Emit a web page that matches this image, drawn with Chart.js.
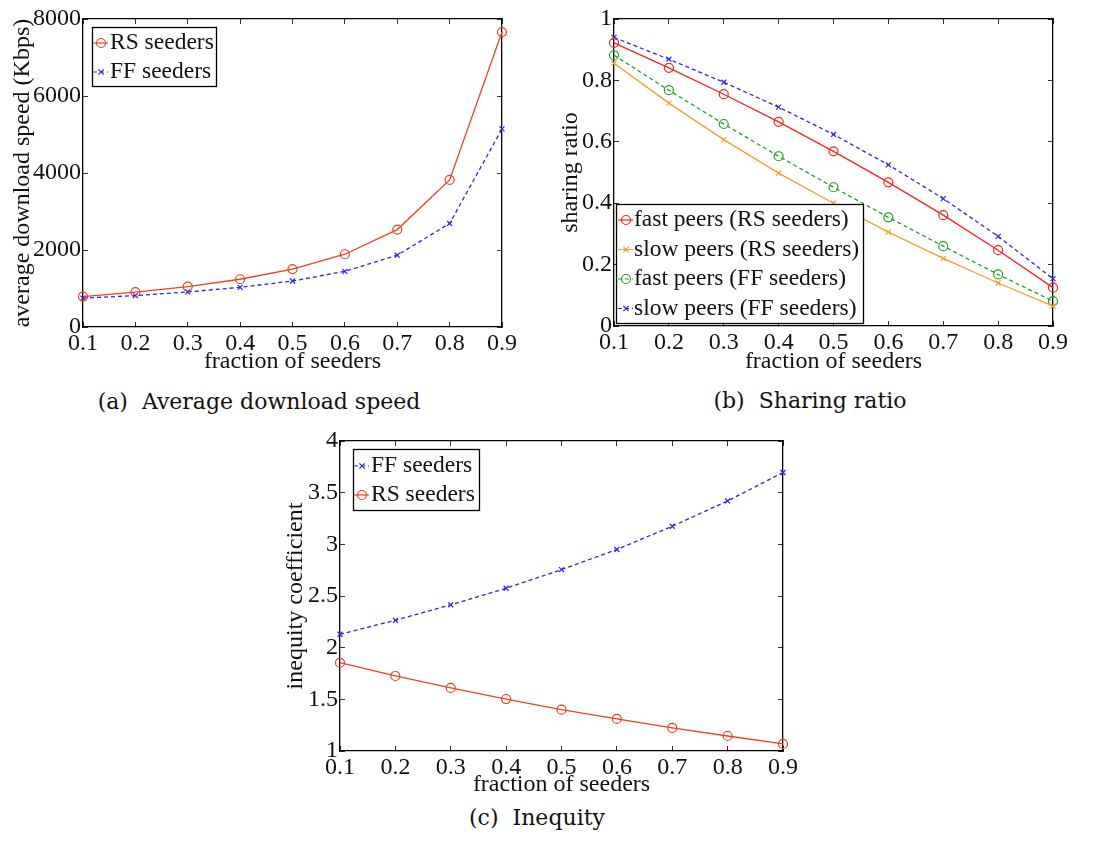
<!DOCTYPE html>
<html>
<head>
<meta charset="utf-8">
<script src="https://cdn.jsdelivr.net/npm/chart.js"></script>
<style>
  body { margin: 0; background: #fff; }
  #page { position: relative; width: 1094px; height: 843px; overflow: hidden; }
  .box { position: absolute; }
  .cap { position: absolute; font-family: "DejaVu Serif", serif; font-size: 22px; color: #111; white-space: pre; transform: translate(-50%, -50%); }
</style>
</head>
<body>
<div id="page">
  <div class="box" style="left:0;top:0;width:540px;height:374px"><canvas id="speed"></canvas></div>
  <div class="box" style="left:540px;top:0;width:554px;height:374px"><canvas id="ratio"></canvas></div>
  <div class="box" style="left:260px;top:420px;width:560px;height:377px"><canvas id="inequity"></canvas></div>
  <div class="cap" style="left:259px;top:401px">(a)  Average download speed</div>
  <div class="cap" style="left:810px;top:400px">(b)  Sharing ratio</div>
  <div class="cap" style="left:537px;top:817px">(c)  Inequity</div>
</div>
<script>
// fraction of seeders on every x axis
const fractions = ['0.1', '0.2', '0.3', '0.4', '0.5', '0.6', '0.7', '0.8', '0.9'];

// (a) average download speed, Kbps
const speedRS = [790, 905, 1050, 1240, 1505, 1890, 2530, 3820, 7660];
const speedFF = [750, 815, 910, 1030, 1195, 1445, 1865, 2690, 5145];

// (b) sharing ratio
const fastRS = [0.922, 0.841, 0.755, 0.665, 0.569, 0.468, 0.361, 0.247, 0.125];
const slowRS = [0.856, 0.726, 0.607, 0.498, 0.400, 0.306, 0.220, 0.140, 0.065];
const fastFF = [0.882, 0.768, 0.658, 0.553, 0.452, 0.354, 0.260, 0.168, 0.081];
const slowFF = [0.940, 0.869, 0.794, 0.713, 0.624, 0.525, 0.415, 0.292, 0.154];

// (c) inequity coefficient
const ineqFF = [2.13, 2.265, 2.415, 2.575, 2.755, 2.95, 3.175, 3.42, 3.695];
const ineqRS = [1.855, 1.726, 1.61, 1.503, 1.40, 1.31, 1.223, 1.145, 1.068];

const speedTicks = [0, 2000, 4000, 6000, 8000];
const ratioTicks = [0, 0.2, 0.4, 0.6, 0.8, 1];
const ineqTicks = [1, 1.5, 2, 2.5, 3, 3.5, 4];

const SERIF = '"Liberation Serif", "Times New Roman", serif';
const TICK_LEN = -5;

Chart.defaults.font.family = SERIF;
Chart.defaults.color = '#111';

function series(label, data, color, marker, dashed) {
  return {
    label, data,
    borderColor: color,
    backgroundColor: 'rgba(0,0,0,0)',
    borderWidth: 1.3,
    borderDash: dashed ? [4, 3] : [],
    pointStyle: marker === 'o' ? 'circle' : 'crossRot',
    pointRadius: marker === 'o' ? 4.5 : 3.5,
    pointBorderWidth: 1.2,
    pointBorderColor: color,
    pointBackgroundColor: 'rgba(0,0,0,0)',
    tension: 0
  };
}

// legend box drawn inside the plot like the matlab one
const boxLegend = {
  id: 'boxLegend',
  afterDatasetsDraw(chart, args, opts) {
    const ctx = chart.ctx;
    const { left, top, width, height, rowTop, rowGap, sampleX, textX } = opts;
    ctx.save();
    ctx.fillStyle = '#fff';
    ctx.fillRect(left, top, width, height);
    ctx.strokeStyle = '#000';
    ctx.lineWidth = 1.3;
    ctx.strokeRect(left + 0.5, top + 0.5, width, height);
    ctx.font = '23.5px ' + SERIF;
    ctx.textBaseline = 'middle';
    ctx.textAlign = 'left';
    chart.data.datasets.forEach((ds, i) => {
      const y = top + rowTop + i * rowGap;
      ctx.strokeStyle = ds.borderColor;
      ctx.lineWidth = 1.2;
      ctx.setLineDash(ds.borderDash);
      ctx.beginPath();
      ctx.moveTo(sampleX - 8, y);
      ctx.lineTo(sampleX + 7, y);
      ctx.stroke();
      ctx.setLineDash([]);
      const r = ds.pointRadius;
      ctx.beginPath();
      if (ds.pointStyle === 'circle') {
        ctx.arc(sampleX, y, r, 0, Math.PI * 2);
      } else {
        const d = r * 0.75;
        ctx.moveTo(sampleX - d, y - d); ctx.lineTo(sampleX + d, y + d);
        ctx.moveTo(sampleX - d, y + d); ctx.lineTo(sampleX + d, y - d);
      }
      ctx.stroke();
      ctx.fillStyle = '#111';
      ctx.fillText(ds.label, textX, y);
    });
    ctx.restore();
  }
};

function fmt(v) { return String(+v.toFixed(2)); }

function makeChart(id, datasets, cfg) {
  const tickFont = { size: 24, lineHeight: 1 };
  const border = { display: true, color: '#000', width: 1.3 };
  const grid = { drawOnChartArea: false, drawTicks: true, tickLength: TICK_LEN, color: '#333', lineWidth: 1 };
  const yRange = { min: cfg.ticks[0], max: cfg.ticks[cfg.ticks.length - 1] };
  return new Chart(document.getElementById(id), {
    type: 'line',
    data: { labels: fractions, datasets },
    options: {
      responsive: true,
      maintainAspectRatio: false,
      animation: false,
      layout: { padding: cfg.padding },
      plugins: { legend: { display: false }, tooltip: { enabled: false }, boxLegend: cfg.legend },
      scales: {
        x: {
          type: 'category', position: 'bottom', offset: false,
          border, grid,
          ticks: { font: tickFont, padding: 10, maxRotation: 0, autoSkip: false },
          title: { display: true, text: 'fraction of seeders', font: { size: 24, lineHeight: 1 }, padding: 0 },
          afterFit: s => { s.height = cfg.xHeight; }
        },
        xTop: {
          type: 'category', position: 'top', offset: false,
          border, grid, ticks: { display: false, autoSkip: false },
          afterFit: s => { s.height = 0; }
        },
        y: {
          type: 'linear', position: 'left', ...yRange,
          border, grid,
          afterBuildTicks: s => { s.ticks = cfg.ticks.map(v => ({ value: v })); },
          ticks: { font: tickFont, padding: 7, callback: v => fmt(v) },
          title: { display: true, text: cfg.yTitle, font: { size: 24, lineHeight: 1 }, padding: { top: cfg.yTitlePad, bottom: 0 } },
          afterFit: s => { s.width = cfg.yWidth; }
        },
        yR: {
          type: 'linear', position: 'right', ...yRange,
          border, grid,
          afterBuildTicks: s => { s.ticks = cfg.ticks.map(v => ({ value: v })); },
          ticks: { display: false },
          afterFit: s => { s.width = 0; }
        }
      }
    },
    plugins: [boxLegend]
  });
}

makeChart('speed', [
  series('RS seeders', speedRS, '#f0401e', 'o', false),
  series('FF seeders', speedFF, '#2424ff', 'x', true)
], {
  ticks: speedTicks, yTitle: 'average download speed (Kbps)', yTitlePad: 11,
  padding: { left: 0, top: 17, right: 38, bottom: 0 }, yWidth: 83, xHeight: 47,
  legend: { left: 92, top: 27, width: 124, height: 59, rowTop: 16, rowGap: 29, sampleX: 101, textX: 110 }
});

makeChart('ratio', [
  series('fast peers (RS seeders)', fastRS, '#ff2020', 'o', false),
  series('slow peers (RS seeders)', slowRS, '#f0a030', 'x', false),
  series('fast peers (FF seeders)', fastFF, '#20a020', 'o', true),
  series('slow peers (FF seeders)', slowFF, '#2424ff', 'x', true)
], {
  ticks: ratioTicks, yTitle: 'sharing ratio', yTitlePad: 19,
  padding: { left: 0, top: 17, right: 41, bottom: 0 }, yWidth: 74, xHeight: 48,
  legend: { left: 76, top: 204, width: 247, height: 119, rowTop: 16, rowGap: 29.5, sampleX: 86, textX: 94 }
});

makeChart('inequity', [
  series('FF seeders', ineqFF, '#2424ff', 'x', true),
  series('RS seeders', ineqRS, '#f0401e', 'o', false)
], {
  ticks: ineqTicks, yTitle: 'inequity coefficient', yTitlePad: 24,
  padding: { left: 0, top: 21, right: 37, bottom: 0 }, yWidth: 80, xHeight: 46,
  legend: { left: 93, top: 29, width: 126, height: 61, rowTop: 17, rowGap: 29, sampleX: 102, textX: 111 }
});
</script>
</body>
</html>
